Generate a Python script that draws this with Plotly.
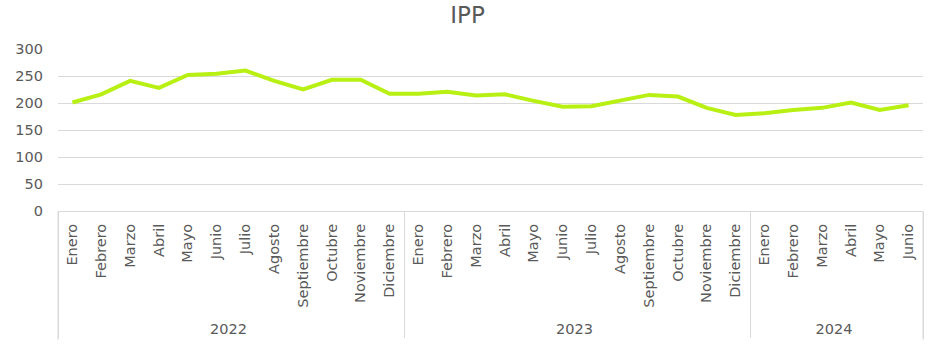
import plotly.graph_objects as go

months_2022 = ["Enero", "Febrero", "Marzo", "Abril", "Mayo", "Junio", "Julio",
               "Agosto", "Septiembre", "Octubre", "Noviembre", "Diciembre"]
months_2023 = list(months_2022)
months_2024 = ["Enero", "Febrero", "Marzo", "Abril", "Mayo", "Junio"]

years = ["2022"] * 12 + ["2023"] * 12 + ["2024"] * 6
months = months_2022 + months_2023 + months_2024

ipp = [201, 216, 241, 228, 252, 254, 260, 241, 225, 243, 243, 217,
       217, 221, 214, 216, 204, 193, 194, 205, 215, 212, 191, 178,
       181, 187, 191, 201, 187, 196]

y_ticks = [0, 50, 100, 150, 200, 250, 300]

font = "DejaVu Sans, Verdana, sans-serif"

# a leading no-break space only pads the rotated labels' far end (gap to the year row)
month_labels = ["\u00a0" + m for m in months]

fig = go.Figure()
fig.add_trace(go.Scatter(
    x=[years, month_labels], y=ipp, mode="lines",
    line=dict(color="#B7F012", width=4),
    hoverinfo="y"
))

fig.update_layout(
    width=935, height=352,
    margin=dict(l=58, r=12, t=49, b=141),
    paper_bgcolor="white", plot_bgcolor="white",
    title=dict(text="IPP", x=0.5, xanchor="center", y=0.957, yanchor="middle",
               font=dict(family=font, size=23, color="#595959")),
    showlegend=False,
    font=dict(family=font, size=14.5, color="#595959"),
)

for xe in (0, 1):
    fig.add_shape(type="line", xref="paper", yref="paper",
                  x0=xe, x1=xe, y0=0, y1=-0.796,
                  line=dict(color="#d9d9d9", width=1))

fig.update_xaxes(
    type="multicategory",
    range=[-0.5, len(ipp) - 0.5],
    tickangle=-90,
    automargin=False,
    showgrid=False,
    showline=True, linecolor="#d9d9d9", linewidth=1,
    ticks="", showdividers=True, dividercolor="#d9d9d9", dividerwidth=1,
    ticklabelstandoff=6,
    tickfont=dict(family=font, size=14.5, color="#595959"),
)

fig.update_yaxes(
    range=[0, 300], tickvals=y_ticks,
    automargin=False,
    showgrid=True, gridcolor="#d9d9d9", gridwidth=1,
    zeroline=False, showline=False, ticks="",
    tickfont=dict(family=font, size=14.5, color="#595959"),
    ticklabelstandoff=14,
)

fig.write_html("out.html")
